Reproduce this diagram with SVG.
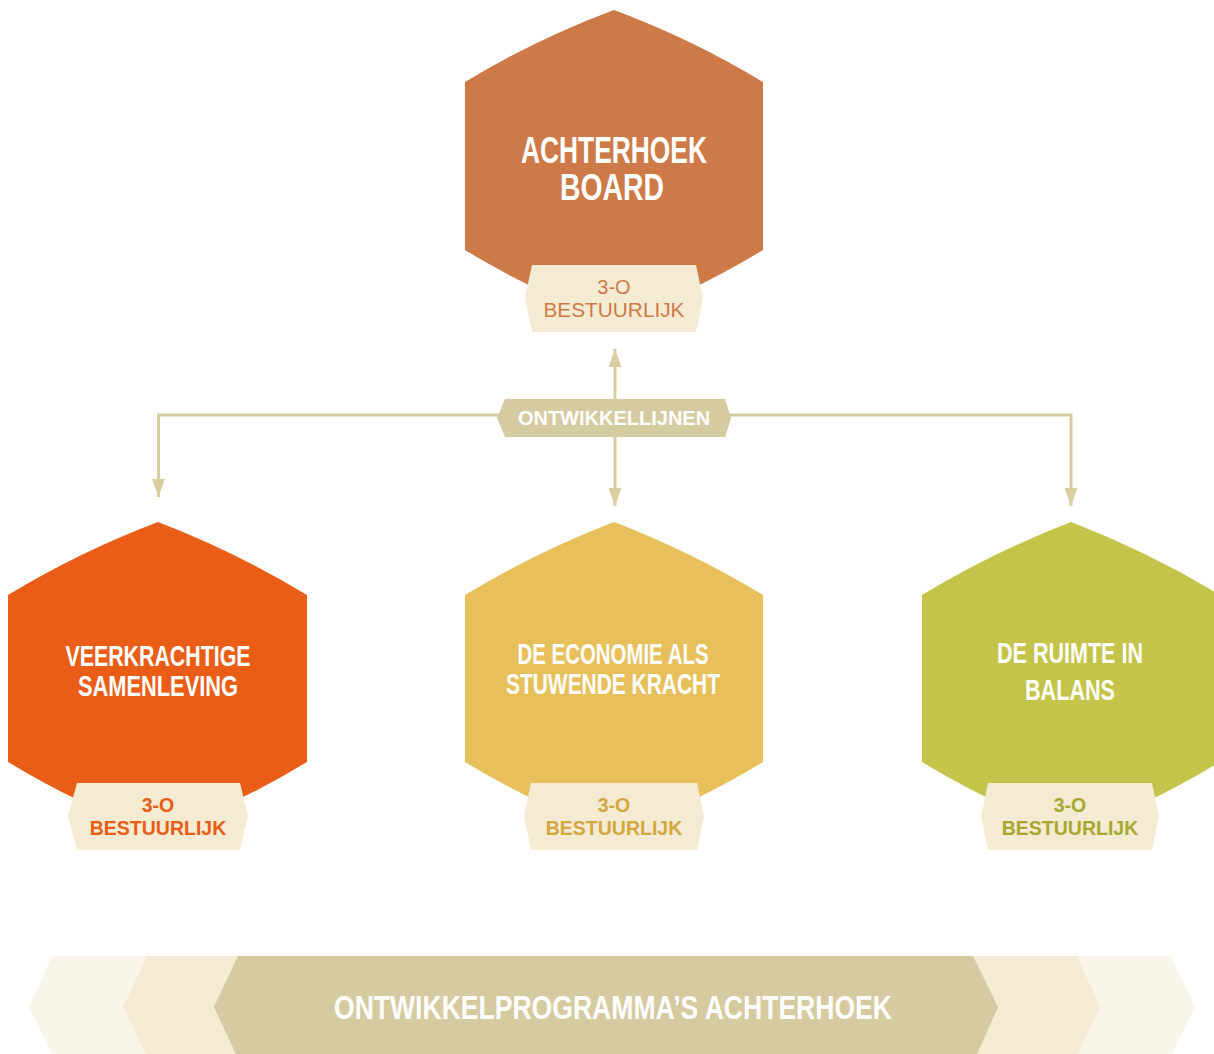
<svg xmlns="http://www.w3.org/2000/svg" width="1214" height="1054" viewBox="0 0 1214 1054">
<style>
.title{font-family:"Liberation Sans",Arial,sans-serif;font-weight:bold;fill:#ffffff;text-anchor:middle}
.lbl{font-family:"Liberation Sans",Arial,sans-serif;font-weight:bold;font-size:19.5px;text-anchor:middle}
.lbl-top{font-family:"Liberation Sans",Arial,sans-serif;font-weight:normal;font-size:20px;text-anchor:middle;fill:#CE7A48}
.pill{fill:#F5EBD2}
.conn{fill:none;stroke:#D8CDA1;stroke-width:3}
</style>
<defs>
<marker id="arr" markerUnits="userSpaceOnUse" markerWidth="18" markerHeight="13" refX="18" refY="6.5" orient="auto">
<path d="M0,0 L18,6.5 L0,13 Z" fill="#D8CDA1"/>
</marker>
</defs>
<rect width="1214" height="1054" fill="#ffffff"/>

<g id="connectors">
<path class="conn" d="M615,418 V349" marker-end="url(#arr)"/>
<path class="conn" d="M615,418 V506" marker-end="url(#arr)"/>
<path class="conn" d="M614,415 H158.5 V497" marker-end="url(#arr)"/>
<path class="conn" d="M614,415 H1071 V506" marker-end="url(#arr)"/>
</g>

<g id="ontwikkellijnen">
<path d="M505,399 H725 L731,418 L725,437 H505 L497,418 Z" fill="#D6CAA0"/>
<text x="614" y="425" font-family="Liberation Sans, Arial, sans-serif" font-weight="bold" font-size="20" fill="#ffffff" text-anchor="middle">ONTWIKKELLIJNEN</text>
</g>

<g id="achterhoek-board">
<path d="M465,82 Q536,39 614,10 Q692,39 763,82 V250 Q692,293 614,322 Q536,293 465,250 Z" fill="#CE7A48"/>
<text class="title" x="614" y="163" font-size="36" textLength="186" lengthAdjust="spacingAndGlyphs">ACHTERHOEK</text>
<text class="title" x="612" y="200" font-size="36" textLength="104" lengthAdjust="spacingAndGlyphs">BOARD</text>
<path class="pill" d="M532,265 H696 L703,298 L696,332 H532 L525,298 Z"/>
<text class="lbl-top" x="614" y="294">3-O</text>
<text class="lbl-top" x="614" y="317" textLength="141" lengthAdjust="spacingAndGlyphs">BESTUURLIJK</text>
</g>

<g id="veerkrachtige-samenleving">
<path d="M8,595 Q79,552 158,522 Q236,552 307,595 V762 Q236,805 158,834 Q79,805 8,762 Z" fill="#E95D16"/>
<text class="title" x="158" y="666" font-size="30" textLength="185" lengthAdjust="spacingAndGlyphs">VEERKRACHTIGE</text>
<text class="title" x="158" y="696" font-size="30" textLength="160" lengthAdjust="spacingAndGlyphs">SAMENLEVING</text>
<path class="pill" d="M77,783 H240 L248,816 L240,850 H77 L68,816 Z"/>
<text class="lbl" x="158" y="812" fill="#E95D16">3-O</text>
<text class="lbl" x="158" y="835" fill="#E95D16">BESTUURLIJK</text>
</g>

<g id="economie">
<path d="M465,595 Q536,552 614,522 Q692,552 763,595 V762 Q692,805 614,834 Q536,805 465,762 Z" fill="#E8C05B"/>
<text class="title" x="613" y="664" font-size="30" textLength="191" lengthAdjust="spacingAndGlyphs">DE ECONOMIE ALS</text>
<text class="title" x="613" y="694" font-size="30" textLength="214" lengthAdjust="spacingAndGlyphs">STUWENDE KRACHT</text>
<path class="pill" d="M531,783 H697 L704,816 L697,850 H531 L524,816 Z"/>
<text class="lbl" x="614" y="812" fill="#D4A73F">3-O</text>
<text class="lbl" x="614" y="835" fill="#D4A73F">BESTUURLIJK</text>
</g>

<g id="ruimte-in-balans">
<path d="M922,595 Q993,552 1071,522 Q1149,552 1220,595 V762 Q1149,805 1071,834 Q993,805 922,762 Z" fill="#C3C449"/>
<text class="title" x="1070" y="663" font-size="30" textLength="146" lengthAdjust="spacingAndGlyphs">DE RUIMTE IN</text>
<text class="title" x="1070" y="700" font-size="30" textLength="90" lengthAdjust="spacingAndGlyphs">BALANS</text>
<path class="pill" d="M988,783 H1152 L1159,816 L1152,850 H988 L981,816 Z"/>
<text class="lbl" x="1070" y="812" fill="#A9A730">3-O</text>
<text class="lbl" x="1070" y="835" fill="#A9A730">BESTUURLIJK</text>
</g>

<g id="ontwikkelprogrammas">
<path d="M52,956 H1171 L1195,1007 L1172,1054 H52 L29,1007 Z" fill="#FAF5EA"/>
<path d="M147,956 H1077 L1100,1007 L1078,1054 H146 L123,1007 Z" fill="#F5EBD2"/>
<path d="M238,956 H973 L998,1007 L977,1054 H236 L214,1007 Z" fill="#D6CAA0"/>
<text class="title" x="613" y="1019" font-size="33" textLength="558" lengthAdjust="spacingAndGlyphs">ONTWIKKELPROGRAMMA’S ACHTERHOEK</text>
</g>
</svg>
